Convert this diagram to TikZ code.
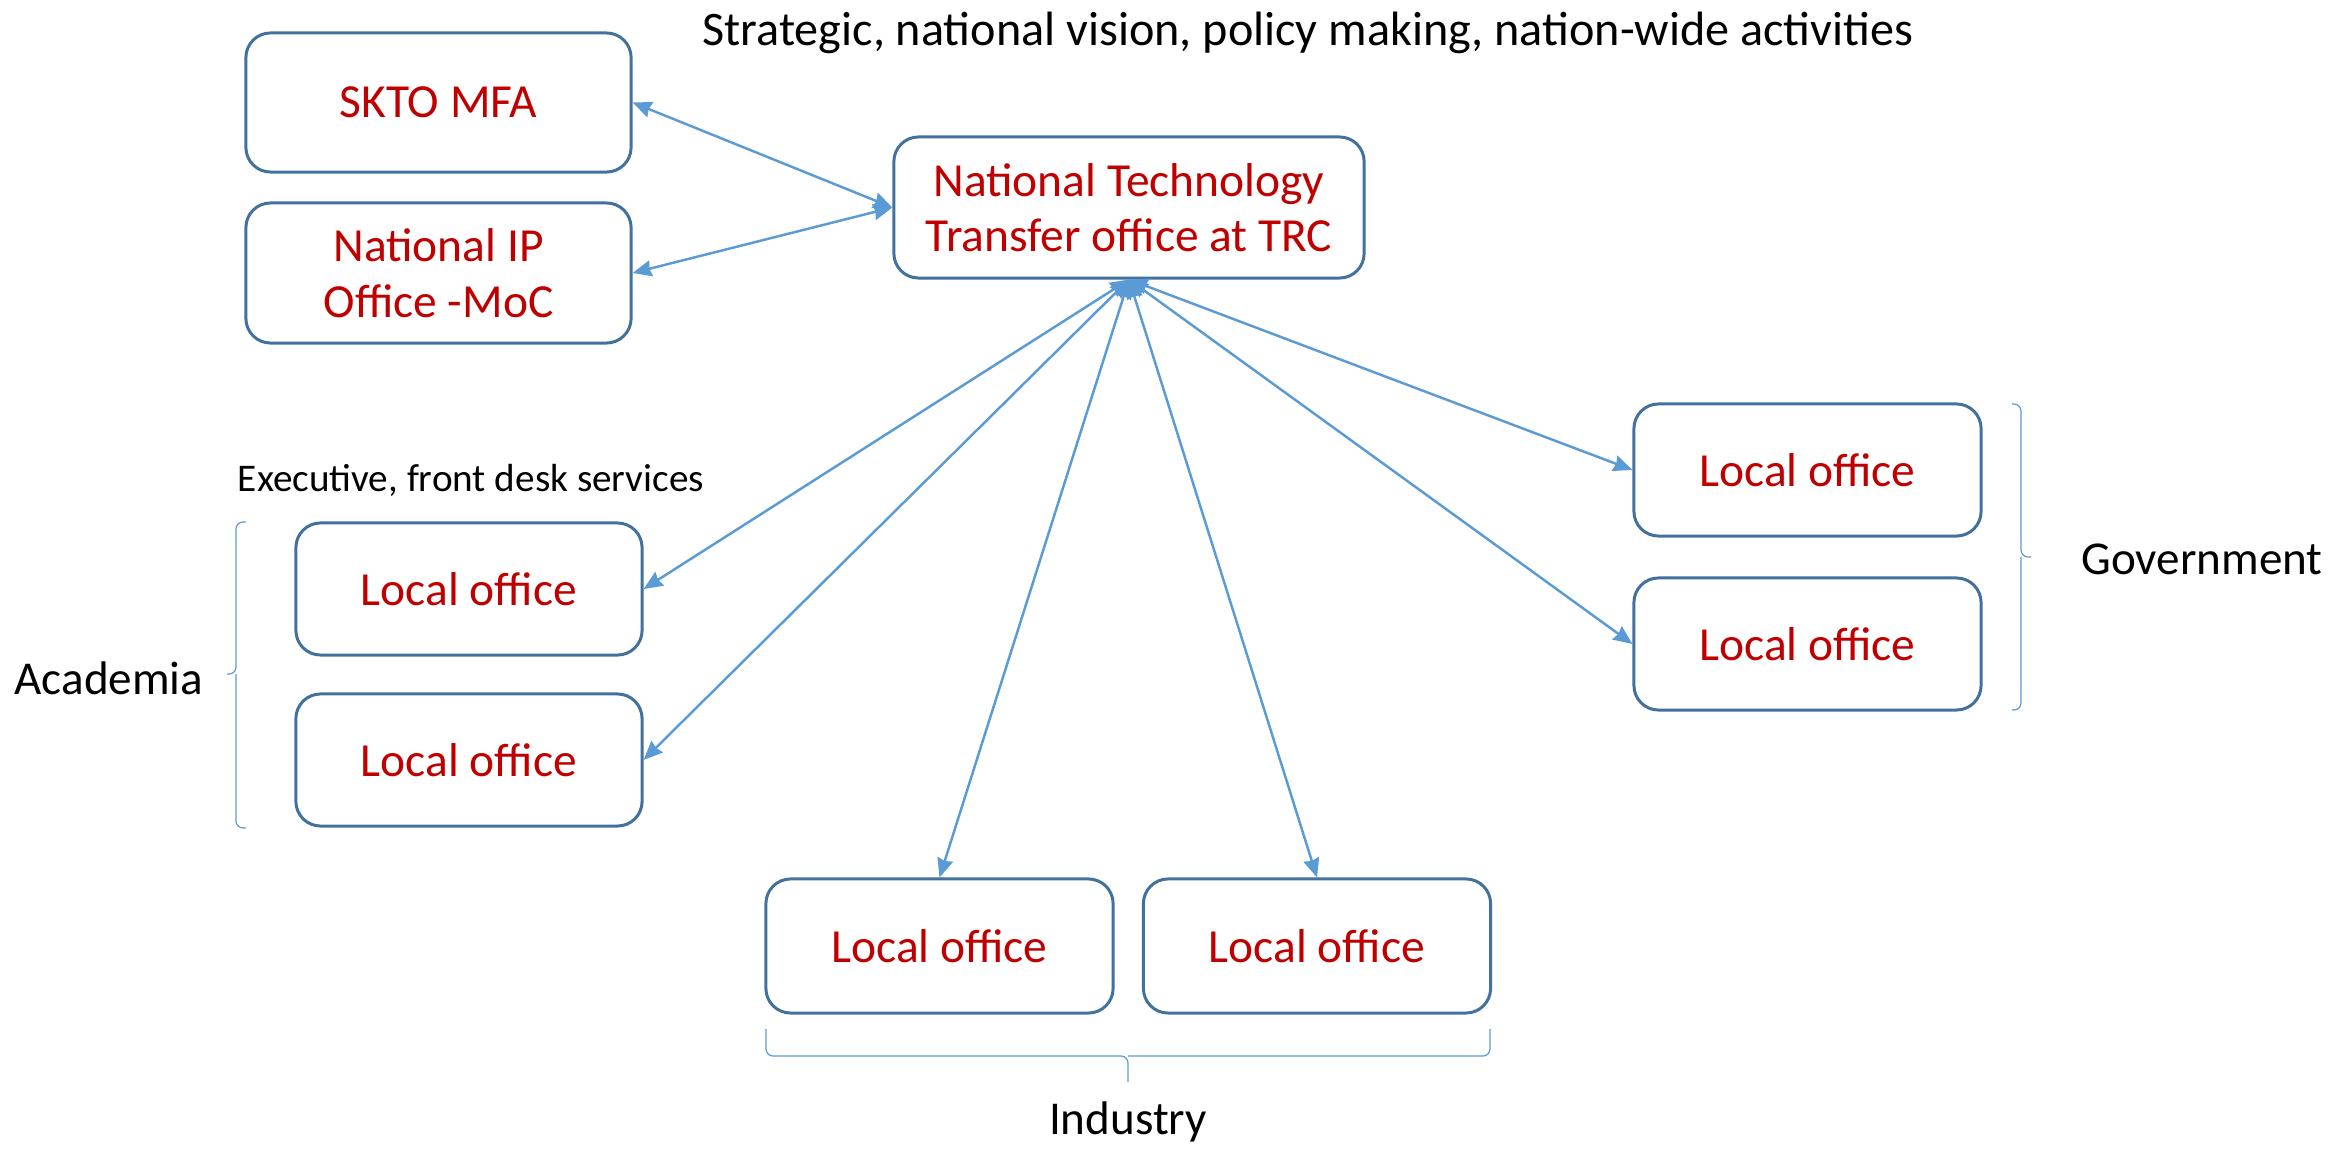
\documentclass[tikz,border=0pt]{standalone}
\usepackage{fontspec}
\setmainfont{Carlito}
\usetikzlibrary{arrows.meta}
\definecolor{boxline}{HTML}{41719C}
\definecolor{arrowblue}{HTML}{5B9BD5}
\definecolor{txtred}{HTML}{C00000}
\tikzset{
  office/.style={draw=boxline, line width=0.85pt, rounded corners=7pt, fill=white,
    text=txtred, align=center, inner sep=0pt,
    font=\fontsize{13.5}{15.8}\selectfont},
  conn/.style={draw=arrowblue, line width=0.7pt,
    {Stealth[length=5.4pt,width=4.6pt,inset=0.5pt]}-{Stealth[length=5.4pt,width=4.6pt,inset=0.5pt]}},
  bracel/.style={draw=arrowblue, line width=0.35pt, rounded corners=2pt},
  lbl/.style={text=black, inner sep=0pt, font=\fontsize{13.4}{16.3}\selectfont},
  toplbl/.style={text=black, inner sep=0pt, font=\fontsize{13.7}{16.5}\selectfont},
  smalllbl/.style={text=black, inner sep=0pt, font=\fontsize{11.15}{13.5}\selectfont}
}
\begin{document}
\begin{tikzpicture}[x=0.01cm,y=-0.01cm]
\useasboundingbox (0,0) rectangle (2336,1149);

% boxes
\node[office, minimum width=3.85cm, minimum height=1.39cm] (skto) at (438.5,102.5) {SKTO MFA};
\node[office, minimum width=3.85cm, minimum height=1.40cm] (nip) at (438.5,273) {National IP\\Office -MoC};
\node[office, minimum width=4.70cm, minimum height=1.41cm] (ntto) at (1129,207.5) {National Technology\\Transfer office at TRC};

\node[office, minimum width=3.46cm, minimum height=1.32cm] (acad1) at (469,589) {Local office};
\node[office, minimum width=3.46cm, minimum height=1.32cm] (acad2) at (469,760) {Local office};

\node[office, minimum width=3.47cm, minimum height=1.34cm] (ind1) at (939.5,946) {Local office};
\node[office, minimum width=3.47cm, minimum height=1.34cm] (ind2) at (1317,946) {Local office};

\node[office, minimum width=3.47cm, minimum height=1.32cm] (gov1) at (1807.5,470) {Local office};
\node[office, minimum width=3.47cm, minimum height=1.32cm] (gov2) at (1807.5,644) {Local office};

% labels
\node[toplbl] (top) at (1308,33) {Strategic, national vision, policy making, nation-wide activities};
\node[smalllbl] (exec) at (471,480) {Executive, front desk services};
\node[lbl] (acad) at (109,678) {Academia};
\node[lbl] (gov) at (2202,559) {Government};
\node[lbl] (ind) at (1128,1122) {Industry};

% braces
\coordinate (lbt) at (246,522);
\coordinate (lbb) at (246,828);
\coordinate (lbm) at (227,674);
\draw[bracel] (lbt) -- (236,522) -- (236,674) -- (lbm);
\draw[bracel] (236,674) -- (236,828) -- (lbb);

\coordinate (gbt) at (2012,404);
\coordinate (gbb) at (2012,710);
\coordinate (gbm) at (2031,557);
\draw[bracel] (gbt) -- (2021,404) -- (2021,557) -- (gbm);
\draw[bracel] (2021,557) -- (2021,710) -- (gbb);

\coordinate (ibl) at (766,1029);
\coordinate (ibr) at (1490,1029);
\coordinate (ibm) at (1128,1082);
\draw[bracel] (ibl) -- (766,1056) -- (1128,1056) -- (ibm);
\draw[bracel] (1128,1056) -- (1490,1056) -- (ibr);

% connectors
\draw[conn] (ntto.west) -- (skto.east);
\draw[conn] (ntto.west) -- (nip.east);
\draw[conn] (ntto.south) -- (acad1.east);
\draw[conn] (ntto.south) -- (acad2.east);
\draw[conn] (ntto.south) -- (ind1.north);
\draw[conn] (ntto.south) -- (ind2.north);
\draw[conn] (ntto.south) -- (gov1.west);
\draw[conn] (ntto.south) -- (gov2.west);
\end{tikzpicture}
\end{document}
